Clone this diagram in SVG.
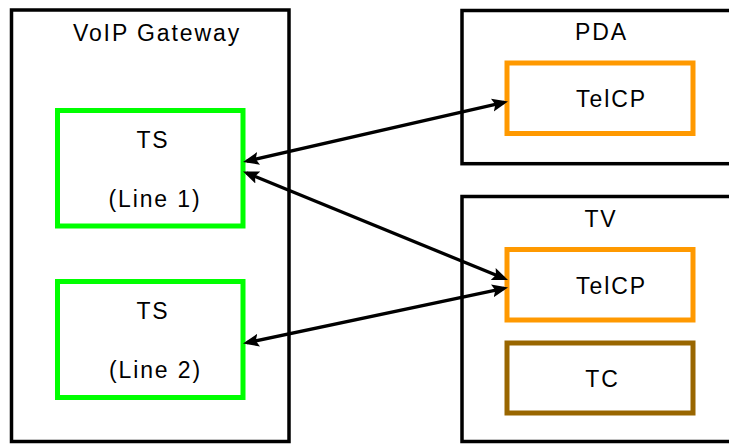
<svg xmlns="http://www.w3.org/2000/svg" width="729" height="444" viewBox="0 0 729 444">
<style>
.box{fill:#fff;stroke:#000;stroke-width:3.5}
.ts{fill:#fff;stroke:#00ff00;stroke-width:5}
.cp{fill:#fff;stroke:#ff9900;stroke-width:5}
.tc{fill:#fff;stroke:#996600;stroke-width:5}
text{font-family:"Liberation Sans",Arial,sans-serif;font-size:23px;letter-spacing:1.9px;fill:#000;text-anchor:middle}
.conn{stroke:#000;stroke-width:3.3;fill:none;marker-start:url(#ah);marker-end:url(#ah)}
</style>
<defs>
<marker id="ah" markerUnits="userSpaceOnUse" markerWidth="18" markerHeight="16" viewBox="0 0 18 16" refX="12" refY="8" orient="auto-start-reverse">
<path d="M0,1.5 L16,8 L0,14.5 L3,8 z" fill="#000"/>
</marker>
</defs>
<rect width="729" height="444" fill="#fff"/>
<g id="gateway">
<rect class="box" x="11.5" y="10" width="277.5" height="431.5"/>
<text x="157" y="40.7">VoIP Gateway</text>
</g>
<g id="pda">
<rect class="box" x="462" y="10.5" width="280" height="153.2"/>
<text x="601.5" y="40">PDA</text>
</g>
<g id="tv">
<rect class="box" x="462" y="196.5" width="280" height="245"/>
<text x="601" y="226.7">TV</text>
</g>
<g id="ts1">
<rect class="ts" x="57.5" y="110.5" width="185.5" height="115.5"/>
<text x="153" y="148.3">TS</text>
<text x="155" y="206.5">(Line 1)</text>
</g>
<g id="ts2">
<rect class="ts" x="57.5" y="281.5" width="185.5" height="116"/>
<text x="153" y="319.3">TS</text>
<text x="155.5" y="378.3">(Line 2)</text>
</g>
<g id="telcp-pda">
<rect class="cp" x="507" y="63" width="186" height="70.5"/>
<text x="611.5" y="107.3">TelCP</text>
</g>
<g id="telcp-tv">
<rect class="cp" x="507" y="249.5" width="186" height="70.5"/>
<text x="611.5" y="294">TelCP</text>
</g>
<g id="tc">
<rect class="tc" x="507" y="343" width="186" height="70"/>
<text x="602.5" y="387.3">TC</text>
</g>
<g id="connectors">
<line class="conn" x1="246.9" y1="161.1" x2="504.1" y2="102.4"/>
<line class="conn" x1="246.7" y1="173" x2="504.3" y2="278.5"/>
<line class="conn" x1="246.9" y1="342.7" x2="504.1" y2="288.3"/>
</g>
</svg>
